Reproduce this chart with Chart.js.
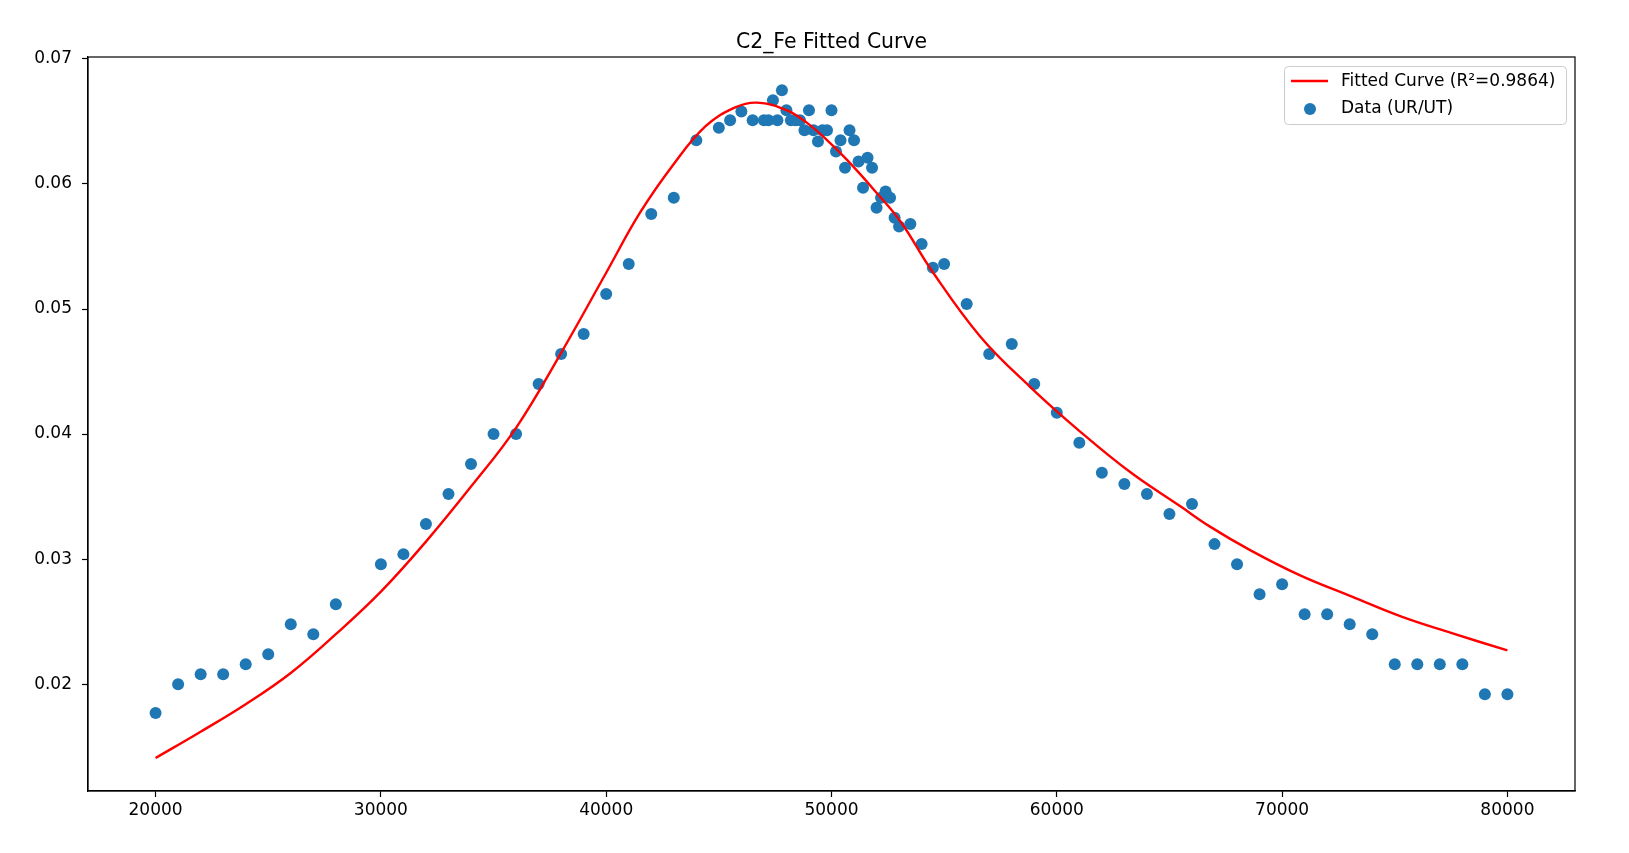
<!DOCTYPE html>
<html>
<head>
<meta charset="utf-8">
<script src="https://cdn.jsdelivr.net/npm/chart.js@4.4.0/dist/chart.umd.min.js"></script>
<style>
  html, body { margin: 0; padding: 0; background: #fff; }
  #wrap { width: 1629px; height: 853px; }
</style>
</head>
<body>
<div id="wrap"><canvas id="myChart"></canvas></div>
<script>
// measured points (UR/UT)
const dataX = [20000, 21000, 22000, 23000, 24000, 25000, 26000, 27000, 28000,
  30000, 31000, 32000, 33000, 34000, 35000, 36000, 37000, 38000, 39000, 40000,
  41000, 42000, 43000, 44000, 45000, 45500, 46000, 46500,
  47000, 47200, 47400, 47600, 47800,
  48000, 48200, 48400, 48600, 48800, 49000, 49200, 49400, 49600, 49800,
  50000, 50200, 50400, 50600, 50800, 51000, 51200, 51400, 51600, 51800,
  52000, 52200, 52400, 52600, 52800, 53000,
  53500, 54000, 54500, 55000,
  56000, 57000, 58000, 59000, 60000, 61000, 62000, 63000, 64000, 65000,
  66000, 67000, 68000, 69000, 70000, 71000, 72000, 73000, 74000, 75000,
  76000, 77000, 78000, 79000, 80000];
const dataY = [0.0177, 0.0200, 0.0208, 0.0208, 0.0216, 0.0224, 0.0248, 0.0240, 0.0264,
  0.0296, 0.0304, 0.0328, 0.0352, 0.0376, 0.0400, 0.0400, 0.0440, 0.0464, 0.0480, 0.0512,
  0.0536, 0.0576, 0.0589, 0.0635, 0.0645, 0.0651, 0.0658, 0.0651,
  0.0651, 0.0651, 0.0667, 0.0651, 0.0675,
  0.0659, 0.0651, 0.0651, 0.0651, 0.0643, 0.0659, 0.0643, 0.0634, 0.0643, 0.0643,
  0.0659, 0.0626, 0.0635, 0.0613, 0.0643, 0.0635, 0.0618, 0.0597, 0.0621, 0.0613,
  0.0581, 0.0589, 0.0594, 0.0589, 0.0573, 0.0566,
  0.0568, 0.0552, 0.0533, 0.0536,
  0.0504, 0.0464, 0.0472, 0.0440, 0.0417, 0.0393, 0.0369, 0.0360, 0.0352, 0.0336,
  0.0344, 0.0312, 0.0296, 0.0272, 0.0280, 0.0256, 0.0256, 0.0248, 0.0240, 0.0216,
  0.0216, 0.0216, 0.0216, 0.0192, 0.0192];

// fitted curve
const fitX = [20000, 22000, 24000, 26000, 28000, 30000, 32000, 34000, 36000, 38000,
  40000, 41500, 43000, 44400, 45700, 46700, 48000, 48900, 49800, 50700,
  51900, 53100, 54400, 56600, 58800, 61100, 63300, 65500, 66800, 68600,
  70800, 73100, 75300, 77500, 80000];
const fitY = [0.0141, 0.0162, 0.0184, 0.0209, 0.0240, 0.0274, 0.0314, 0.0358, 0.0405, 0.0465,
  0.0529, 0.0577, 0.0616, 0.0646, 0.0661, 0.0665, 0.0659, 0.0649, 0.0635, 0.0619,
  0.0595, 0.0569, 0.0532, 0.0478, 0.0438, 0.0401, 0.0369, 0.0342, 0.0326, 0.0307,
  0.0287, 0.0270, 0.0254, 0.0241, 0.0227];

const xTicks = [20000, 30000, 40000, 50000, 60000, 70000, 80000];
const yTicks = [0.02, 0.03, 0.04, 0.05, 0.06, 0.07];

const titleText = 'C2_Fe Fitted Curve';
const fitLabel = 'Fitted Curve (R\u00b2=0.9864)';
const dataLabel = 'Data (UR/UT)';

const FONT = "'DejaVu Sans', sans-serif";

// title centred over the axes, like matplotlib
const axTitle = {
  id: 'axTitle',
  afterDraw(chart) {
    const ctx = chart.ctx, a = chart.chartArea;
    ctx.save();
    ctx.font = '20.4px ' + FONT;
    ctx.fillStyle = '#000';
    ctx.textAlign = 'center';
    ctx.textBaseline = 'middle';
    ctx.fillText(titleText, (a.left + a.right) / 2, 43);
    ctx.restore();
  }
};

// full box round the plot
const frame = {
  id: 'frame',
  afterDatasetsDraw(chart) {
    const ctx = chart.ctx, a = chart.chartArea;
    ctx.save();
    ctx.strokeStyle = '#000';
    ctx.lineWidth = 1.2;
    ctx.strokeRect(a.left, a.top, a.right - a.left, a.bottom - a.top);
    ctx.restore();
  }
};

// legend in the upper right corner of the axes
const boxLegend = {
  id: 'boxLegend',
  afterDraw(chart) {
    const ctx = chart.ctx, a = chart.chartArea;
    const w = 282, h = 58;
    const x0 = a.right - 9 - w, y0 = a.top + 9;
    ctx.save();
    ctx.beginPath();
    ctx.roundRect(x0 + 0.5, y0 + 0.5, w, h, 4);
    ctx.fillStyle = 'rgba(255,255,255,0.8)';
    ctx.fill();
    ctx.strokeStyle = '#cccccc';
    ctx.lineWidth = 1;
    ctx.stroke();

    const line = chart.data.datasets[0], pts = chart.data.datasets[1];
    ctx.font = '17px ' + FONT;
    ctx.textBaseline = 'middle';
    ctx.fillStyle = '#000';

    ctx.beginPath();
    ctx.moveTo(x0 + 7, y0 + 15);
    ctx.lineTo(x0 + 44, y0 + 15);
    ctx.strokeStyle = line.borderColor;
    ctx.lineWidth = 2.4;
    ctx.stroke();
    ctx.fillText(line.label, x0 + 57, y0 + 16);

    ctx.beginPath();
    ctx.arc(x0 + 26, y0 + 43, 6, 0, Math.PI * 2);
    ctx.fillStyle = pts.backgroundColor;
    ctx.fill();
    ctx.fillStyle = '#000';
    ctx.fillText(pts.label, x0 + 57, y0 + 43);
    ctx.restore();
  }
};

const ctx = document.getElementById('myChart');
new Chart(ctx, {
  type: 'scatter',
  data: {
    datasets: [{
      type: 'line',
      label: fitLabel,
      data: fitX.map((x, i) => ({ x: x, y: fitY[i] })),
      borderColor: '#ff0000',
      borderWidth: 2.4,
      pointRadius: 0,
      fill: false,
      tension: 0.4
    }, {
      label: dataLabel,
      data: dataX.map((x, i) => ({ x: x, y: dataY[i] })),
      backgroundColor: '#1f77b4',
      borderColor: '#1f77b4',
      borderWidth: 0,
      pointRadius: 6
    }]
  },
  options: {
    responsive: true,
    maintainAspectRatio: false,
    animation: false,
    events: [],
    layout: { padding: { top: 57, right: 54, left: 0, bottom: 0 } },
    plugins: {
      legend: { display: false },
      title: { display: false },
      tooltip: { enabled: false }
    },
    scales: {
      x: {
        type: 'linear',
        min: 17000,
        max: 83000,
        afterBuildTicks: (s) => { s.ticks = xTicks.map(v => ({ value: v })); },
        afterFit: (s) => { s.height = 62; },
        grid: { drawOnChartArea: false, drawTicks: true, tickLength: 6, color: '#000', tickWidth: 1.2 },
        border: { display: true, color: '#000', width: 1.2 },
        ticks: {
          font: { family: FONT, size: 17 },
          color: '#000',
          padding: 3,
          maxRotation: 0,
          callback: (v) => String(v)
        }
      },
      y: {
        type: 'linear',
        min: 0.01146,
        max: 0.07015,
        afterBuildTicks: (s) => { s.ticks = yTicks.map(v => ({ value: v })); },
        afterFit: (s) => { s.width = 88; },
        grid: { drawOnChartArea: false, drawTicks: true, tickLength: 6, color: '#000', tickWidth: 1.2 },
        border: { display: true, color: '#000', width: 1.2 },
        ticks: {
          font: { family: FONT, size: 17 },
          color: '#000',
          padding: 10,
          callback: (v) => v.toFixed(2)
        }
      }
    }
  },
  plugins: [axTitle, frame, boxLegend]
});
</script>
</body>
</html>
